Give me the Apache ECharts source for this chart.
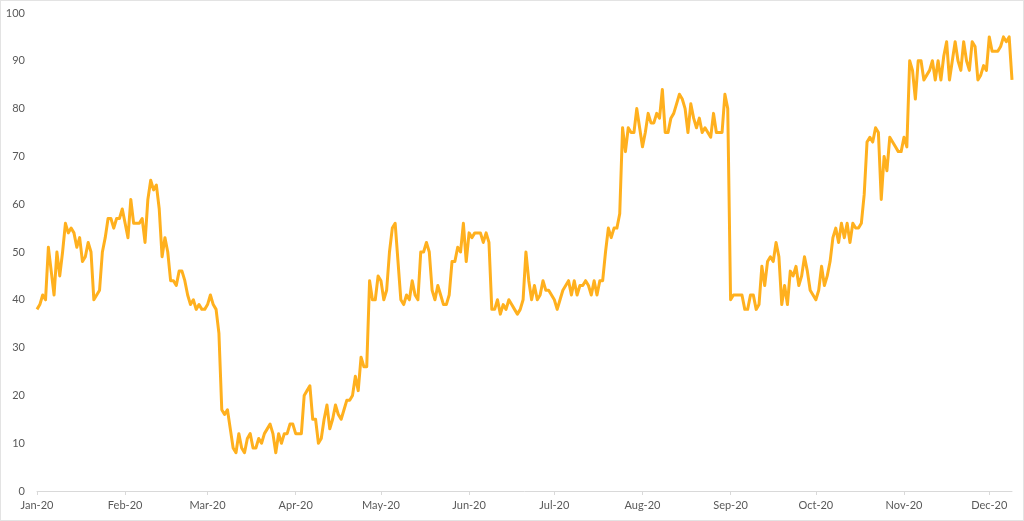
<!DOCTYPE html>
<html>
<head>
<meta charset="utf-8">
<script src="https://cdn.jsdelivr.net/npm/echarts@6/dist/echarts.min.js"></script>
<style>
html,body{margin:0;padding:0;background:#fff;}
#wrap{width:1024px;height:521px;box-sizing:border-box;border:1px solid #e3e3e3;}
#chart{width:1022px;height:519px;}
</style>
</head>
<body>
<div id="wrap"><div id="chart"></div></div>
<script>
const startDate = '2020-01-01';
const janValues = [38,39,41,40,51,46,41,50,45,50,56,54,55,54,51,53,48,49,52,50,40,41,42,50,53,57,57,55,57,57,59];
const febValues = [56,53,61,56,56,56,57,52,61,65,63,64,59,49,53,50,44,44,43,46,46,44,41,39,40,38,39,38,38];
const marValues = [39,41,39,38,33,17,16,17,13,9,8,12,9,8,11,12,9,9,11,10,12,13,14,12,8,12,10,12,12,14,14];
const aprValues = [12,12,12,20,21,22,15,15,10,11,15,18,13,15,18,16,15,17,19,19,20,24,21,28,26,26,44,40,40,45];
const mayValues = [44,40,42,50,55,56,48,40,39,41,40,44,41,40,50,50,52,50,42,40,43,41,39,39,41,48,48,51,50,56,48];
const junValues = [54,53,54,54,54,52,54,52,38,38,40,37,39,38,40,39,38,37,38,40,50,44,40,43,40,41,44,42,42,41];
const julValues = [40,38,40,42,43,44,41,44,41,43,43,44,43,41,44,41,44,44,50,55,53,55,55,58,76,71,76,75,75,80,76];
const augValues = [72,75,79,77,77,79,78,84,75,75,78,79,81,83,82,80,75,81,78,76,78,75,76,75,74,79,75,75,75,83,80];
const sepValues = [40,41,41,41,41,38,38,41,41,38,39,47,43,48,49,48,52,49,39,43,39,46,45,47,43,45,49,46,42,41];
const octValues = [40,42,47,43,45,48,53,55,52,56,53,56,52,56,55,55,56,62,73,74,73,76,75,61,70,67,74,73,72,71,71];
const novValues = [74,72,90,88,82,90,90,86,87,88,90,86,90,86,91,94,86,90,94,90,88,94,90,88,94,93,86,87,89,88];
const decValues = [95,92,92,92,93,95,94,95,86];
const monthNames = ['Jan','Feb','Mar','Apr','May','Jun','Jul','Aug','Sep','Oct','Nov','Dec'];
const yTicks = {min:0, max:100, interval:10};

const values = [].concat(janValues,febValues,marValues,aprValues,mayValues,junValues,julValues,augValues,sepValues,octValues,novValues,decValues);
const categories = [];
const d0 = new Date(startDate + 'T00:00:00Z');
for (let i = 0; i < values.length; i++) {
  const d = new Date(d0.getTime() + i*86400000);
  const y = d.getUTCFullYear(), m = d.getUTCMonth()+1, dd = d.getUTCDate();
  categories.push(y + '-' + String(m).padStart(2,'0') + '-' + String(dd).padStart(2,'0'));
}
const isMonthStart = (idx, val) => val.slice(8) === '01';

const chart = echarts.init(document.getElementById('chart'));
chart.setOption({
  animation: false,
  backgroundColor: '#fff',
  textStyle: {fontFamily: 'Lato, "Open Sans", sans-serif'},
  grid: {left: 36, right: 11, top: 12, bottom: 29},
  xAxis: {
    type: 'category',
    data: categories,
    boundaryGap: false,
    axisLine: {show: true, lineStyle: {color: '#d9d9d9', width: 1}},
    axisTick: {show: true, interval: isMonthStart, length: 4, lineStyle: {color: '#d9d9d9'}},
    axisLabel: {
      interval: isMonthStart,
      color: '#595959', fontSize: 11, margin: 9,
      fontFamily: 'Lato, "Open Sans", sans-serif',
      formatter: v => monthNames[parseInt(v.slice(5,7),10)-1] + '-' + v.slice(2,4)
    },
    splitLine: {show: false}
  },
  yAxis: {
    type: 'value',
    min: yTicks.min, max: yTicks.max, interval: yTicks.interval,
    axisLine: {show: false},
    axisTick: {show: false},
    splitLine: {show: false},
    axisLabel: {color: '#595959', fontSize: 11, margin: 12, fontFamily: 'Lato, "Open Sans", sans-serif'}
  },
  series: [{
    type: 'line',
    data: values,
    showSymbol: false,
    symbol: 'none',
    lineStyle: {color: '#FFB01E', width: 3, join: 'round'},
    itemStyle: {color: '#FFB01E'}
  }]
});
</script>
</body>
</html>
